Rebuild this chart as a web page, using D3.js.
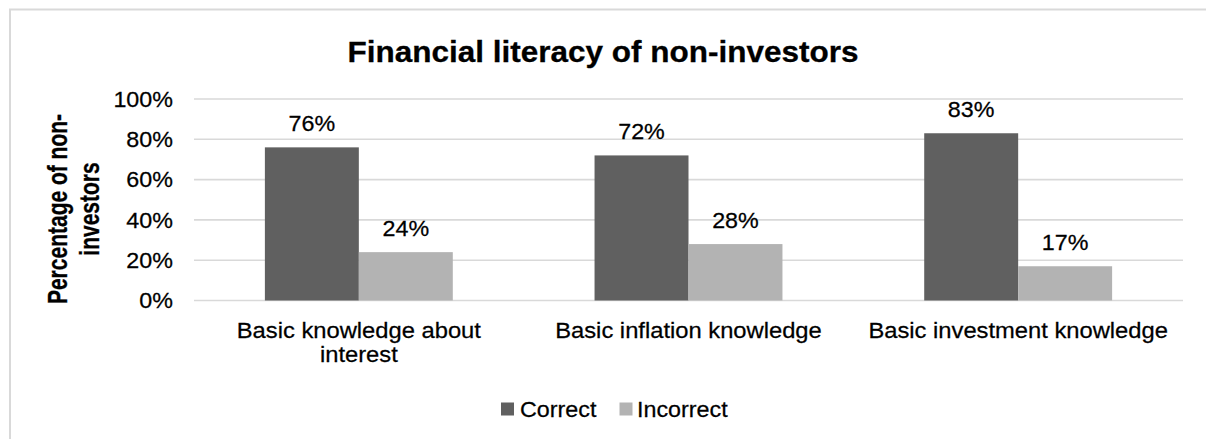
<!DOCTYPE html>
<html>
<head>
<meta charset="utf-8">
<script src="https://cdn.jsdelivr.net/npm/d3@7"></script>
<style>
  html, body { margin: 0; padding: 0; background: #fff; overflow: hidden; }
  svg { display: block; }
  text { font-family: "Liberation Sans", Arial, sans-serif; fill: #000; stroke: #000; stroke-width: 0.25px; }
</style>
</head>
<body>
<svg id="chart" width="1206" height="439"></svg>
<script>
// Chart data
const categories = [
  ["Basic knowledge about", "interest"],
  ["Basic inflation knowledge"],
  ["Basic investment knowledge"]
];
const seriesNames = ["Correct", "Incorrect"];
const correct = [0.76, 0.72, 0.83];
const incorrect = [0.24, 0.28, 0.17];
const yTicks = [0, 0.2, 0.4, 0.6, 0.8, 1.0];
const titleText = "Financial literacy of non-investors";
const yLabelLines = ["Percentage of non-", "investors"];

const colors = { Correct: "#606060", Incorrect: "#b3b3b3" };

const svg = d3.select("#chart");
const plot = { left: 194, right: 1183, top: 99, bottom: 300.5 };

// Chart area frame: only its top and left edges are in view
svg.append("path")
  .attr("d", "M10,439 V9.5 H1206")
  .attr("fill", "none")
  .attr("stroke", "#d9d9d9").attr("stroke-width", 2);

const catKeys = categories.map((c, i) => i);
const x = d3.scaleBand().domain(catKeys)
  .range([plot.left, plot.right])
  .paddingInner(0.43).paddingOuter(0.215);
const xs = d3.scaleBand().domain(seriesNames).range([0, x.bandwidth()]);
const y = d3.scaleLinear().domain([0, 1]).range([plot.bottom, plot.top]);

function stretched(sel, tx, ty, k) {
  return sel.attr("transform", `translate(${tx},${ty}) scale(${k},1)`);
}

// Gridlines
svg.append("g")
  .selectAll("line").data(yTicks).join("line")
  .attr("x1", plot.left).attr("x2", plot.right)
  .attr("y1", d => y(d)).attr("y2", d => y(d))
  .attr("stroke", "#d9d9d9").attr("stroke-width", 1.6);

// Y tick labels
const fmt = d3.format(".0%");
svg.append("g")
  .selectAll("text").data(yTicks).join("text")
  .each(function(d) { stretched(d3.select(this), 173, y(d) + 7.8, 1.06); })
  .attr("text-anchor", "end")
  .style("font-size", "22px")
  .text(d => fmt(d));

// Bars
const rows = catKeys.map(i => ({ i, values: [
  { key: "Correct", v: correct[i] },
  { key: "Incorrect", v: incorrect[i] }
]}));

const groups = svg.append("g").selectAll("g").data(rows).join("g")
  .attr("transform", d => `translate(${x(d.i)},0)`);

groups.selectAll("rect").data(d => d.values).join("rect")
  .attr("x", d => xs(d.key))
  .attr("width", xs.bandwidth())
  .attr("y", d => y(d.v))
  .attr("height", d => y(0) - y(d.v))
  .attr("fill", d => colors[d.key]);

// Value labels
groups.selectAll("text").data(d => d.values).join("text")
  .each(function(d) {
    stretched(d3.select(this), xs(d.key) + xs.bandwidth() / 2, y(d.v) - 16, 1.06);
  })
  .attr("text-anchor", "middle")
  .style("font-size", "22px")
  .text(d => fmt(d.v));

// Category labels
svg.append("g").selectAll("g").data(catKeys).join("g")
  .each(function(i) {
    const g = d3.select(this);
    categories[i].forEach((line, k) => {
      g.append("text")
        .call(s => stretched(s, x(i) + x.bandwidth() / 2, 338 + k * 24, 1.08))
        .attr("text-anchor", "middle")
        .style("font-size", "22px")
        .text(line);
    });
  });

// Title
svg.append("text")
  .call(s => stretched(s, 603, 62, 1.086))
  .attr("text-anchor", "middle")
  .style("font-size", "29px")
  .style("font-weight", "bold")
  .style("stroke-width", "0.3px")
  .text(titleText);

// Y axis title
const yMid = 209;
yLabelLines.forEach((line, k) => {
  svg.append("text")
    .attr("transform", `translate(${67 + k * 32},${yMid}) scale(1.3,1) rotate(-90)`)
    .attr("text-anchor", "middle")
    .style("font-size", "21px")
    .style("font-weight", "bold")
    .text(line);
});

// Legend
const legendPos = [{ sx: 501, tx: 520 }, { sx: 619.5, tx: 637 }];
const legend = svg.append("g").selectAll("g").data(seriesNames).join("g");
legend.append("rect")
  .attr("x", (d, i) => legendPos[i].sx).attr("y", 402.5)
  .attr("width", 13).attr("height", 13)
  .attr("fill", d => colors[d]);
legend.append("text")
  .each(function(d, i) { stretched(d3.select(this), legendPos[i].tx, 416.5, 1.06); })
  .style("font-size", "22px")
  .text(d => d);
</script>
</body>
</html>
